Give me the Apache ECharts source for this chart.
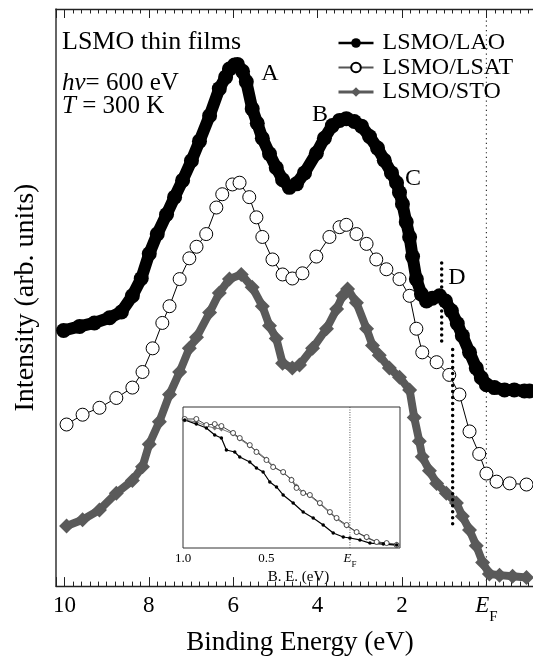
<!DOCTYPE html>
<html><head><meta charset="utf-8">
<script src="https://cdn.jsdelivr.net/npm/echarts@6/dist/echarts.min.js"></script>
<style>html,body{margin:0;padding:0;background:#fff;overflow:hidden;width:533px;height:661px}#c{width:580px;height:661px}</style>
</head><body><div id="c"></div>
<script>
// ---- main spectra (binding energy in eV, intensity in arb. units) ----
const laoE = [10.02, 9.64, 9.29, 8.93, 8.65, 8.39, 8.18, 7.99, 7.80, 7.58, 7.39, 7.20, 6.99, 6.80, 6.56, 6.33, 6.18, 6.09, 5.97, 5.90, 5.78, 5.69, 5.55, 5.43, 5.31, 5.14, 4.98, 4.83, 4.67, 4.50, 4.31, 4.03, 3.84, 3.65, 3.48, 3.32, 3.13, 2.96, 2.77, 2.58, 2.42, 2.25, 2.13, 2.06, 1.99, 1.90, 1.82, 1.75, 1.66, 1.54, 1.42, 1.28, 1.11, 0.97, 0.83, 0.69, 0.57, 0.40, 0.24, 0.12, 0.00, -0.19, -0.43, -0.66, -0.90, -1.02];
const laoI = [44.3, 45.0, 45.6, 46.5, 47.5, 50.3, 53.3, 57.6, 61.0, 64.4, 67.4, 70.3, 73.7, 77.1, 81.5, 86.2, 88.2, 89.6, 90.3, 90.4, 89.2, 87.4, 82.7, 80.2, 77.6, 74.9, 72.5, 70.4, 69.1, 69.7, 71.6, 75.0, 77.6, 79.8, 80.7, 81.0, 80.5, 79.7, 77.9, 75.9, 73.8, 71.6, 69.9, 68.2, 66.2, 63.1, 60.5, 57.1, 53.2, 50.6, 49.4, 49.9, 50.3, 49.4, 47.7, 45.5, 43.4, 40.5, 37.8, 36.1, 34.9, 34.4, 34.0, 34.0, 33.8, 33.8];

const lsatE = [9.95, 9.57, 9.17, 8.77, 8.39, 8.15, 7.91, 7.68, 7.51, 7.27, 7.04, 6.87, 6.64, 6.40, 6.26, 6.02, 5.85, 5.62, 5.45, 5.31, 5.07, 4.83, 4.60, 4.36, 4.03, 3.72, 3.48, 3.32, 3.08, 2.84, 2.61, 2.37, 2.06, 1.82, 1.66, 1.52, 1.18, 0.88, 0.64, 0.40, 0.17, 0.00, -0.24, -0.55, -0.95];
const lsatI = [28.0, 29.7, 30.9, 32.6, 34.4, 37.1, 41.2, 45.6, 48.5, 53.2, 56.8, 58.8, 61.0, 65.6, 67.9, 69.6, 69.9, 67.4, 63.9, 60.5, 56.6, 54.0, 53.3, 54.2, 57.1, 60.5, 62.2, 62.6, 61.0, 59.3, 56.6, 54.9, 53.2, 50.3, 44.6, 40.5, 38.8, 36.6, 33.2, 26.8, 22.9, 19.5, 18.1, 17.8, 17.6];

const stoE = [9.95, 9.57, 9.17, 8.77, 8.39, 8.15, 7.99, 7.75, 7.51, 7.27, 7.04, 6.87, 6.56, 6.33, 6.09, 5.81, 5.55, 5.31, 5.14, 4.98, 4.83, 4.60, 4.43, 4.12, 3.79, 3.55, 3.41, 3.29, 3.08, 2.84, 2.70, 2.54, 2.30, 2.06, 1.82, 1.71, 1.59, 1.52, 1.35, 1.18, 0.95, 0.71, 0.57, 0.40, 0.24, 0.09, -0.07, -0.31, -0.62, -0.95];
const stoI = [10.4, 11.5, 13.2, 16.1, 18.3, 20.7, 24.6, 28.5, 33.2, 37.1, 41.2, 43.1, 47.4, 50.8, 53.2, 54.0, 51.8, 48.5, 45.1, 42.9, 38.6, 37.8, 38.3, 41.2, 44.6, 48.0, 50.3, 51.5, 49.1, 44.6, 41.7, 40.0, 37.8, 36.2, 34.0, 29.2, 25.1, 22.4, 20.0, 17.8, 16.1, 14.4, 12.1, 9.7, 7.0, 4.1, 2.1, 1.9, 1.7, 1.5];

// ---- inset (near E_F) ----
const insetLaoE = [0.99, 0.92, 0.86, 0.81, 0.77, 0.74, 0.69, 0.66, 0.60, 0.56, 0.52, 0.48, 0.44, 0.40, 0.34, 0.28, 0.22, 0.16, 0.10, 0.04, 0.00, -0.06, -0.12, -0.20, -0.28];
const insetLaoI = [90.8, 87.9, 85.1, 80.1, 78.0, 69.5, 68.1, 64.5, 61.0, 56.7, 53.9, 46.8, 43.3, 37.6, 31.9, 25.5, 21.3, 16.3, 10.6, 7.8, 7.1, 5.7, 3.5, 2.8, 2.1];
const insetE = [0.99, 0.92, 0.86, 0.81, 0.77, 0.70, 0.66, 0.60, 0.56, 0.50, 0.46, 0.40, 0.35, 0.32, 0.28, 0.24, 0.18, 0.12, 0.08, 0.02, -0.04, -0.10, -0.16, -0.22, -0.28];
const insetLsatI = [91.5, 91.5, 87.2, 87.9, 86.5, 81.6, 78.0, 73.0, 68.1, 62.4, 57.4, 53.9, 48.2, 42.6, 39.0, 37.6, 31.9, 25.5, 21.3, 16.3, 11.3, 7.8, 4.3, 3.5, 2.1];
const insetStoI = [90.8, 89.4, 86.5, 85.1, 84.4, 80.9, 77.3, 72.3, 68.8, 63.1, 58.2, 53.2, 48.9, 44.0, 39.7, 37.0, 31.2, 24.8, 20.6, 15.6, 11.3, 7.1, 4.3, 3.5, 2.8];

// ---- reference marks ----
const fermiLevel = 0;
const fermiLineTop = 98;
const dMarkE = [1.06, 0.80];
const dMarkTop = [56, 41];
const dMarkBottom = [42, 10];

// ---- tick labels ----
const mainTickValues = [0, 2, 4, 6, 8, 10];
const insetTickValues = [0, 0.5, 1.0];
const insetTickLabels = ['{e|E}{f|F}', '0.5', '1.0'];

const seriesNames = ['LSMO/LAO', 'LSMO/LSAT', 'LSMO/STO'];

const F = 'Liberation Serif';
const zip = (a, b) => a.map((v, i) => [v, b[i]]);
const efRich = (big, small, pad) => ({
  e: {fontFamily: F, fontStyle: 'italic', fontSize: big, color: '#000', verticalAlign: 'top', lineHeight: big},
  f: {fontFamily: F, fontSize: small, color: '#000', verticalAlign: 'top', lineHeight: small, padding: [pad, 0, 0, 0]}
});

const chart = echarts.init(document.getElementById('c'), null, {renderer: 'canvas'});
const GRAY = '#5a5a5a';

const option = {
  animation: false,
  backgroundColor: '#fff',
  grid: [
    {left: 56, top: 9, width: 514.8, height: 585, show: false},
    {left: 183, top: 407, width: 217, height: 141, show: true, borderColor: '#333', borderWidth: 1, backgroundColor: '#fff', z: 5}
  ],
  xAxis: [
    {
      gridIndex: 0, type: 'value', position: 'bottom', inverse: true, min: -2, max: 10.2, interval: 2,
      axisLine: {show: true, onZero: false, lineStyle: {color: '#222', width: 1.3}},
      axisTick: {show: true, inside: true, length: 9, lineStyle: {color: '#222', width: 1}},
      minorTick: {show: true, splitNumber: 10, length: 4.5, lineStyle: {color: '#222', width: 1}},
      splitLine: {show: false}, minorSplitLine: {show: false},
      axisLabel: {
        margin: 8, fontFamily: F, fontSize: 23, color: '#000',
        formatter: v => {
          const r = Math.round(v * 1000) / 1000;
          if (!mainTickValues.includes(r)) return '';
          return r === 0 ? '{e|E}{f|F}' : String(r);
        },
        rich: efRich(23, 15, 15)
      },
      name: 'Binding Energy (eV)', nameLocation: 'middle', nameGap: 36,
      nameTextStyle: {fontFamily: F, fontSize: 27, color: '#000', padding: [0, 27, 0, 0]}
    },
    {
      gridIndex: 0, type: 'value', position: 'top', inverse: true, min: -2, max: 10.2, interval: 2,
      axisLine: {show: true, onZero: false, lineStyle: {color: '#222', width: 1.3}},
      axisTick: {show: true, inside: true, length: 9, lineStyle: {color: '#222', width: 1}},
      minorTick: {show: true, splitNumber: 10, length: 4.5, lineStyle: {color: '#222', width: 1}},
      splitLine: {show: false}, axisLabel: {show: false}
    },
    {
      gridIndex: 1, type: 'value', position: 'bottom', inverse: true, min: -0.3, max: 1.0,
      axisLine: {show: false, onZero: false},
      axisTick: {show: true, inside: true, length: 4, customValues: insetTickValues, lineStyle: {color: '#333'}},
      splitLine: {show: false},
      axisLabel: {
        margin: 4, fontFamily: F, fontSize: 13, color: '#000', customValues: insetTickValues,
        formatter: v => insetTickLabels[insetTickValues.findIndex(t => Math.abs(t - v) < 1e-6)] || '',
        rich: efRich(13, 9, 8)
      },
      name: 'B. E. (eV)', nameLocation: 'middle', nameGap: 22,
      nameTextStyle: {fontFamily: F, fontSize: 15, color: '#000', padding: [0, 0, 0, 14]}
    },
    {
      gridIndex: 1, type: 'value', position: 'top', inverse: true, min: -0.3, max: 1.0,
      axisLine: {show: false, onZero: false},
      axisTick: {show: true, inside: true, length: 4, customValues: insetTickValues, lineStyle: {color: '#333'}},
      splitLine: {show: false}, axisLabel: {show: false}
    }
  ],
  yAxis: [
    {
      gridIndex: 0, type: 'value', min: 0, max: 100, position: 'left',
      axisLine: {show: true, onZero: false, lineStyle: {color: '#333', width: 1.5}},
      axisTick: {show: false}, axisLabel: {show: false}, splitLine: {show: false},
      name: 'Intensity (arb. units)', nameLocation: 'middle', nameGap: 16,
      nameTextStyle: {fontFamily: F, fontSize: 28, color: '#000'}
    },
    {
      gridIndex: 1, type: 'value', min: 0, max: 100, show: false, axisLine: {onZero: false}
    }
  ],
  legend: {
    orient: 'vertical', left: 337, top: 31, padding: 0, itemWidth: 35, itemHeight: 12, itemGap: 0.5,
    selectedMode: false,
    textStyle: {fontFamily: F, fontSize: 24, color: '#000', padding: [0, 0, 0, 4]},
    data: [
      {name: seriesNames[0], lineStyle: {width: 2.5, color: '#000'}},
      {name: seriesNames[1], lineStyle: {width: 2, color: '#555'}},
      {name: seriesNames[2], lineStyle: {width: 3, color: GRAY}}
    ]
  },
  graphic: [
    {type: 'text', left: 62, top: 29, z: 10, style: {text: 'LSMO thin films', font: '26px "Liberation Serif"', fill: '#000'}},
    {type: 'text', left: 62, top: 71, z: 10, style: {
      text: '{i|hν}{n|= 600 eV}', fill: '#000',
      rich: {i: {fontFamily: F, fontStyle: 'italic', fontSize: 25}, n: {fontFamily: F, fontSize: 25}}}},
    {type: 'text', left: 62, top: 94, z: 10, style: {
      text: '{i|T}{n| = 300 K}', fill: '#000',
      rich: {i: {fontFamily: F, fontStyle: 'italic', fontSize: 25}, n: {fontFamily: F, fontSize: 25}}}},
    {type: 'text', x: 270, y: 74, z: 10, style: {text: 'A', font: '24px "Liberation Serif"', fill: '#000', align: 'center', verticalAlign: 'middle'}},
    {type: 'text', x: 320, y: 115, z: 10, style: {text: 'B', font: '24px "Liberation Serif"', fill: '#000', align: 'center', verticalAlign: 'middle'}},
    {type: 'text', x: 413, y: 179, z: 10, style: {text: 'C', font: '24px "Liberation Serif"', fill: '#000', align: 'center', verticalAlign: 'middle'}},
    {type: 'text', x: 457, y: 278, z: 10, style: {text: 'D', font: '24px "Liberation Serif"', fill: '#000', align: 'center', verticalAlign: 'middle'}}
  ],
  series: [
    {
      name: 'EF', type: 'line', xAxisIndex: 0, yAxisIndex: 0, silent: true, symbol: 'none', z: 1,
      data: [[fermiLevel, fermiLineTop], [fermiLevel, 0]],
      lineStyle: {color: '#333', width: 1.2, type: [1.2, 3.5]}
    },
    {
      name: 'Dmark1', type: 'line', xAxisIndex: 0, yAxisIndex: 0, silent: true, symbol: 'none', z: 4,
      data: [[dMarkE[0], dMarkTop[0]], [dMarkE[0], dMarkBottom[0]]],
      lineStyle: {color: '#000', width: 3.5, type: [0.01, 6], cap: 'round'}
    },
    {
      name: 'Dmark2', type: 'line', xAxisIndex: 0, yAxisIndex: 0, silent: true, symbol: 'none', z: 4,
      data: [[dMarkE[1], dMarkTop[1]], [dMarkE[1], dMarkBottom[1]]],
      lineStyle: {color: '#000', width: 3.5, type: [0.01, 6], cap: 'round'}
    },
    {
      name: seriesNames[2], type: 'line', xAxisIndex: 0, yAxisIndex: 0, z: 2,
      data: zip(stoE, stoI), symbol: 'diamond', symbolSize: 15, showAllSymbol: true,
      itemStyle: {color: GRAY}, lineStyle: {color: GRAY, width: 8}
    },
    {
      name: seriesNames[1], type: 'line', xAxisIndex: 0, yAxisIndex: 0, z: 3,
      data: zip(lsatE, lsatI), symbol: 'circle', symbolSize: 13, showAllSymbol: true,
      itemStyle: {color: '#fff', borderColor: '#000', borderWidth: 1}, lineStyle: {color: '#000', width: 1}
    },
    {
      name: seriesNames[0], type: 'line', xAxisIndex: 0, yAxisIndex: 0, z: 3,
      data: zip(laoE, laoI), symbol: 'circle', symbolSize: 15, showAllSymbol: true,
      itemStyle: {color: '#000'}, lineStyle: {color: '#000', width: 12}
    },
    // inset
    {
      name: 'EFinset', type: 'line', xAxisIndex: 2, yAxisIndex: 1, silent: true, symbol: 'none', z: 6,
      data: [[fermiLevel, 100], [fermiLevel, 0]],
      lineStyle: {color: '#555', width: 1, type: [1, 1.5]}
    },
    {
      name: 'stoInset', type: 'line', xAxisIndex: 2, yAxisIndex: 1, z: 7,
      data: zip(insetE, insetStoI), symbol: 'diamond', symbolSize: 5, showAllSymbol: true,
      itemStyle: {color: '#777'}, lineStyle: {color: '#777', width: 1}
    },
    {
      name: 'lsatInset', type: 'line', xAxisIndex: 2, yAxisIndex: 1, z: 8,
      data: zip(insetE, insetLsatI), symbol: 'circle', symbolSize: 5, showAllSymbol: true,
      itemStyle: {color: '#fff', borderColor: '#222', borderWidth: 0.8}, lineStyle: {color: '#444', width: 1}
    },
    {
      name: 'laoInset', type: 'line', xAxisIndex: 2, yAxisIndex: 1, z: 8,
      data: zip(insetLaoE, insetLaoI), symbol: 'circle', symbolSize: 3.5, showAllSymbol: true,
      itemStyle: {color: '#000'}, lineStyle: {color: '#000', width: 1.2}
    }
  ]
};
chart.setOption(option);
</script></body></html>
